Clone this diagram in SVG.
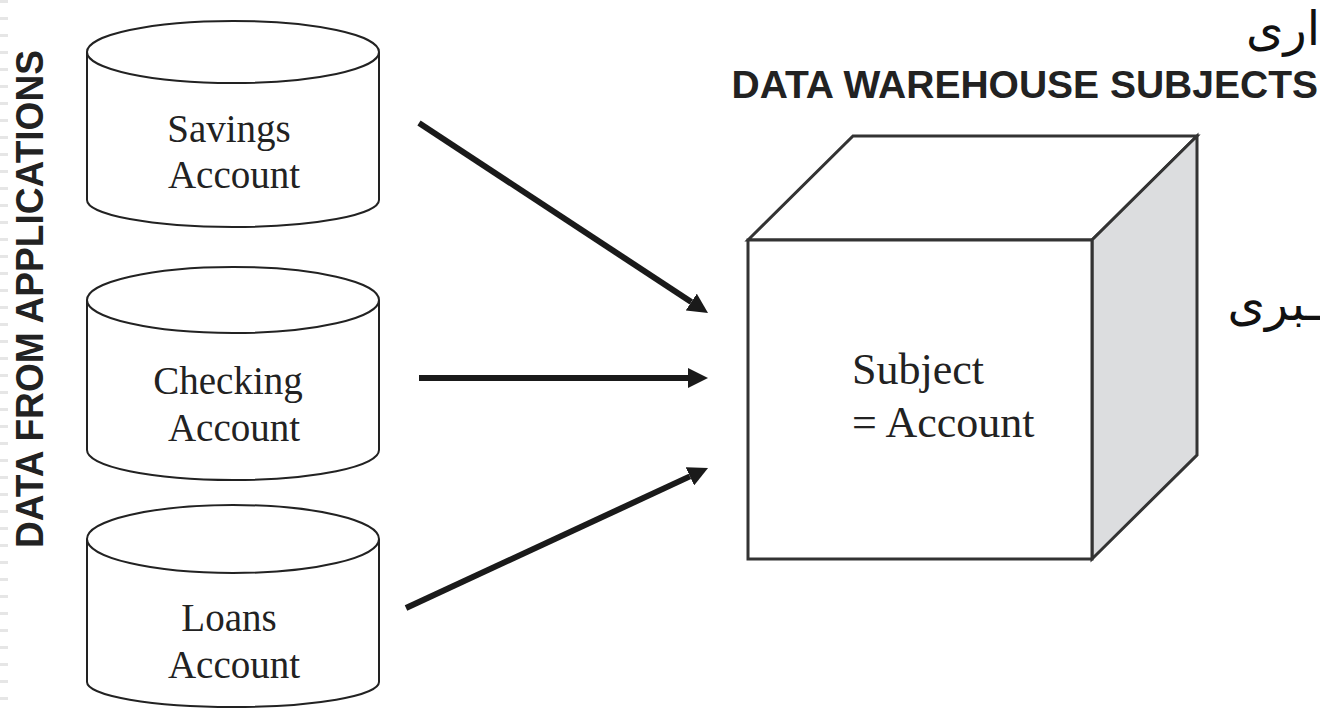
<svg xmlns="http://www.w3.org/2000/svg" width="1320" height="710" viewBox="0 0 1320 710">
<style>
.cyl{fill:#fff;stroke:#222;stroke-width:2}
.lbl{font-family:"Liberation Serif","Times New Roman",serif;font-size:39px;fill:#222;text-anchor:middle}
.cube{stroke:#333;stroke-width:3;stroke-linejoin:miter}
.title{font-family:"Liberation Sans",Arial,sans-serif;font-weight:bold;fill:#222}
.fa{font-family:"DejaVu Sans","Noto Sans",sans-serif;font-size:48px;fill:#111;text-anchor:end}
.arr{stroke:#1a1a1a;stroke-width:6;fill:none;marker-end:url(#ah)}
</style>
<defs>
<marker id="ah" viewBox="0 0 20 20" refX="0" refY="10" markerWidth="20" markerHeight="20" markerUnits="userSpaceOnUse" orient="auto">
<path d="M0,0 L20,10 L0,20 z" fill="#1a1a1a"/>
</marker>
</defs>
<rect width="1320" height="710" fill="#fff"/>
<line x1="4" y1="0" x2="4" y2="710" stroke="#e6e6e6" stroke-width="8" stroke-dasharray="3 14"/>
<text class="title" font-size="38" transform="translate(43,548) rotate(-90)" textLength="498" lengthAdjust="spacingAndGlyphs">DATA FROM APPLICATIONS</text>
<g id="savings">
<path class="cyl" d="M87,52 L87,200 A146,27 0 0 0 379,200 L379,52"/>
<ellipse class="cyl" cx="233" cy="52" rx="146" ry="31"/>
<text class="lbl" x="229" y="142">Savings</text>
<text class="lbl" x="234" y="188">Account</text>
</g>
<g id="checking">
<path class="cyl" d="M87,300 L87,450 A146,30 0 0 0 379,450 L379,300"/>
<ellipse class="cyl" cx="233" cy="300" rx="146" ry="33"/>
<text class="lbl" x="228" y="394">Checking</text>
<text class="lbl" x="234" y="441">Account</text>
</g>
<g id="loans">
<path class="cyl" d="M87,539 L87,682 A146,25 0 0 0 379,682 L379,539"/>
<ellipse class="cyl" cx="233" cy="539" rx="146" ry="34"/>
<text class="lbl" x="229" y="631">Loans</text>
<text class="lbl" x="234" y="678">Account</text>
</g>
<g id="connectors">
<line class="arr" x1="419" y1="123" x2="691.3" y2="302"/>
<line class="arr" x1="419" y1="378" x2="688" y2="378"/>
<line class="arr" x1="406" y1="608" x2="689.9" y2="476.4"/>
</g>
<g id="subject">
<polygon class="cube" fill="#fff" points="748,240 853,136 1197,136 1092,240"/>
<polygon class="cube" fill="#dcdddf" points="1092,240 1197,136 1197,455 1092,559"/>
<rect class="cube" fill="#fff" x="748" y="240" width="344" height="319"/>
<text x="852" y="384" font-family="Liberation Serif, Times New Roman, serif" font-size="44" fill="#222">Subject</text>
<text x="852" y="437" font-family="Liberation Serif, Times New Roman, serif" font-size="44" fill="#222">= Account</text>
</g>
<text class="title" font-size="39" x="1318" y="98" text-anchor="end">DATA WAREHOUSE SUBJECTS</text>
<text class="fa" x="1320" y="45">اری</text>
<text class="fa" x="1320" y="320" font-size="44">ـبری</text>
</svg>
